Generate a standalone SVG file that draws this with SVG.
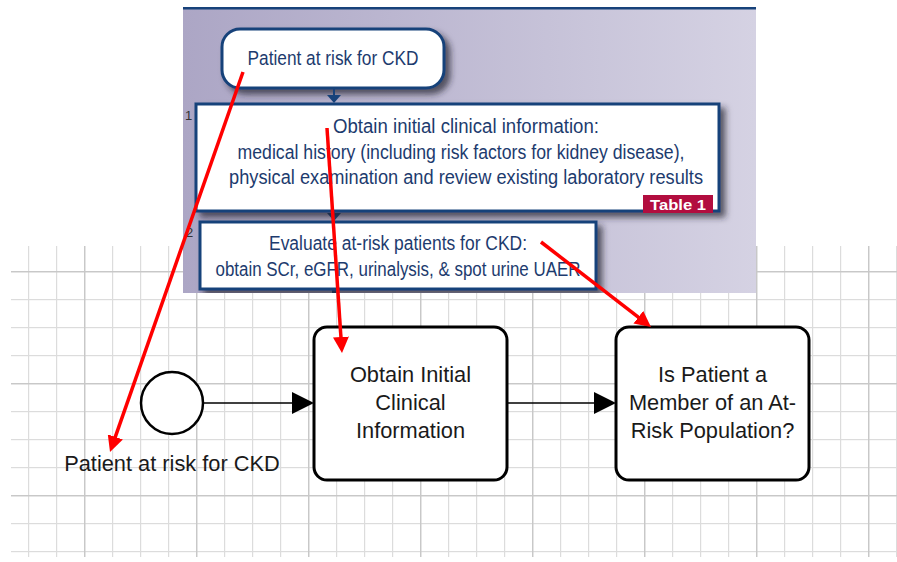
<svg xmlns="http://www.w3.org/2000/svg" width="897" height="562" viewBox="0 0 897 562">
<style>
.shot-box{fill:#fff;stroke:#17427a;stroke-width:3}
.shot-txt{font-family:"Liberation Sans",Arial,sans-serif;fill:#1d3b6e;text-anchor:middle}
.bp-box{fill:#fff;stroke:#000;stroke-width:3}
.bp-txt{font-family:"Liberation Sans",Arial,sans-serif;font-size:21.8px;fill:#1a1a1a;text-anchor:middle}
.flow{stroke:#000;stroke-width:1.6;fill:none}
.red{stroke:#ff0000;stroke-width:3.5;fill:none;marker-end:url(#redhead)}
.navy{fill:#17427a}
</style>
<defs>
<linearGradient id="bg" x1="0" y1="0" x2="1" y2="0">
<stop offset="0" stop-color="#aca6c5"/>
<stop offset="1" stop-color="#d5d2e3"/>
</linearGradient>
<pattern id="minor" patternUnits="userSpaceOnUse" x="0" y="271" width="28" height="28">
<rect x="0" y="0" width="28" height="1.2" fill="#dcdcdc"/>
<rect x="0" y="0" width="1.2" height="28" fill="#dcdcdc"/>
</pattern>
<pattern id="major" patternUnits="userSpaceOnUse" x="84" y="271" width="112" height="112">
<rect x="0" y="0" width="112" height="1.4" fill="#c8c8c8"/>
<rect x="0" y="0" width="1.4" height="112" fill="#c8c8c8"/>
</pattern>
<filter id="shadow" x="-10%" y="-20%" width="130%" height="160%">
<feDropShadow dx="5" dy="5" stdDeviation="3" flood-color="#22222e" flood-opacity="0.7"/>
</filter>
<clipPath id="shotclip"><rect x="183" y="0" width="573" height="293"/></clipPath>
<marker id="redhead" viewBox="0 0 16 16" refX="4" refY="8" markerWidth="16" markerHeight="16" markerUnits="userSpaceOnUse" orient="auto">
<path d="M0,0 L16,8 L0,16 z" fill="#ff0000"/>
</marker>
</defs>

<rect x="0" y="0" width="897" height="562" fill="#fff"/>

<g id="grid">
<rect x="11" y="246" width="886" height="311" fill="url(#minor)"/>
<rect x="11" y="246" width="886" height="311" fill="url(#major)"/>
</g>

<g id="screenshot" clip-path="url(#shotclip)">
<rect x="183" y="0" width="573" height="293" fill="url(#bg)"/>
<rect x="183" y="0" width="573" height="7" fill="#fff"/>
<rect x="183" y="7" width="573" height="2.5" fill="#17427a"/>
<g id="s-start">
<rect class="shot-box" x="222" y="29" width="222" height="59" rx="18" filter="url(#shadow)"/>
<text class="shot-txt" x="333" y="65" font-size="20.5" textLength="171" lengthAdjust="spacingAndGlyphs">Patient at risk for CKD</text>
</g>
<g id="s-arrows">
<rect class="navy" x="333" y="88" width="2" height="9"/>
<path class="navy" d="M327,95 L341,95 L334,103 z"/>
<rect class="navy" x="333" y="211" width="2" height="4"/>
<path class="navy" d="M327,213 L341,213 L334,221 z"/>
<rect class="navy" x="332" y="289" width="4" height="5"/>
</g>
<g id="s-step1">
<text x="185" y="120" font-family="Liberation Sans,Arial,sans-serif" font-size="13" fill="#333">1</text>
<rect class="shot-box" x="196" y="104" width="523" height="107" filter="url(#shadow)"/>
<text class="shot-txt" x="466" y="133" font-size="20" textLength="266" lengthAdjust="spacingAndGlyphs">Obtain initial clinical information:</text>
<text class="shot-txt" x="461" y="159" font-size="20" textLength="447" lengthAdjust="spacingAndGlyphs">medical history (including risk factors for kidney disease),</text>
<text class="shot-txt" x="466" y="184" font-size="20" textLength="474" lengthAdjust="spacingAndGlyphs">physical examination and review existing laboratory results</text>
<rect x="643" y="195" width="70" height="18" fill="#b20d3f"/>
<text x="678" y="210" font-family="Liberation Sans,Arial,sans-serif" font-size="15" font-weight="bold" fill="#fff" text-anchor="middle" textLength="56" lengthAdjust="spacingAndGlyphs">Table 1</text>
</g>
<g id="s-step2">
<text x="186" y="237" font-family="Liberation Sans,Arial,sans-serif" font-size="13" fill="#333">2</text>
<rect class="shot-box" x="200" y="222" width="396" height="67" filter="url(#shadow)"/>
<text class="shot-txt" x="398" y="250" font-size="20" textLength="258" lengthAdjust="spacingAndGlyphs">Evaluate at-risk patients for CKD:</text>
<text class="shot-txt" x="398" y="276" font-size="20" textLength="365" lengthAdjust="spacingAndGlyphs">obtain SCr, eGFR, urinalysis, &amp; spot urine UAER</text>
</g>
</g>

<g id="start-event">
<circle cx="172" cy="403" r="31" fill="#fff" stroke="#000" stroke-width="2.5"/>
<text class="bp-txt" x="172" y="471">Patient at risk for CKD</text>
</g>

<g id="task-obtain">
<rect class="bp-box" x="314" y="327" width="193" height="153" rx="13"/>
<text class="bp-txt" x="410.5" y="382">Obtain Initial</text>
<text class="bp-txt" x="410.5" y="410">Clinical</text>
<text class="bp-txt" x="410.5" y="438">Information</text>
</g>

<g id="task-member">
<rect class="bp-box" x="616" y="327" width="193" height="153" rx="13"/>
<text class="bp-txt" x="712.5" y="382">Is Patient a</text>
<text class="bp-txt" x="712.5" y="410">Member of an At-</text>
<text class="bp-txt" x="712.5" y="438">Risk Population?</text>
</g>

<g id="connectors">
<line class="flow" x1="204" y1="403" x2="294" y2="403"/>
<path d="M314,403 L292,392 L292,414 z" fill="#000"/>
<line class="flow" x1="508" y1="403" x2="596" y2="403"/>
<path d="M616,403 L594,392 L594,414 z" fill="#000"/>
</g>

<g id="red-arrows">
<line class="red" x1="243" y1="72" x2="114" y2="440.7"/>
<line class="red" x1="327" y1="128" x2="341.2" y2="341"/>
<line class="red" x1="541" y1="242" x2="641.5" y2="319.7"/>
</g>
</svg>
